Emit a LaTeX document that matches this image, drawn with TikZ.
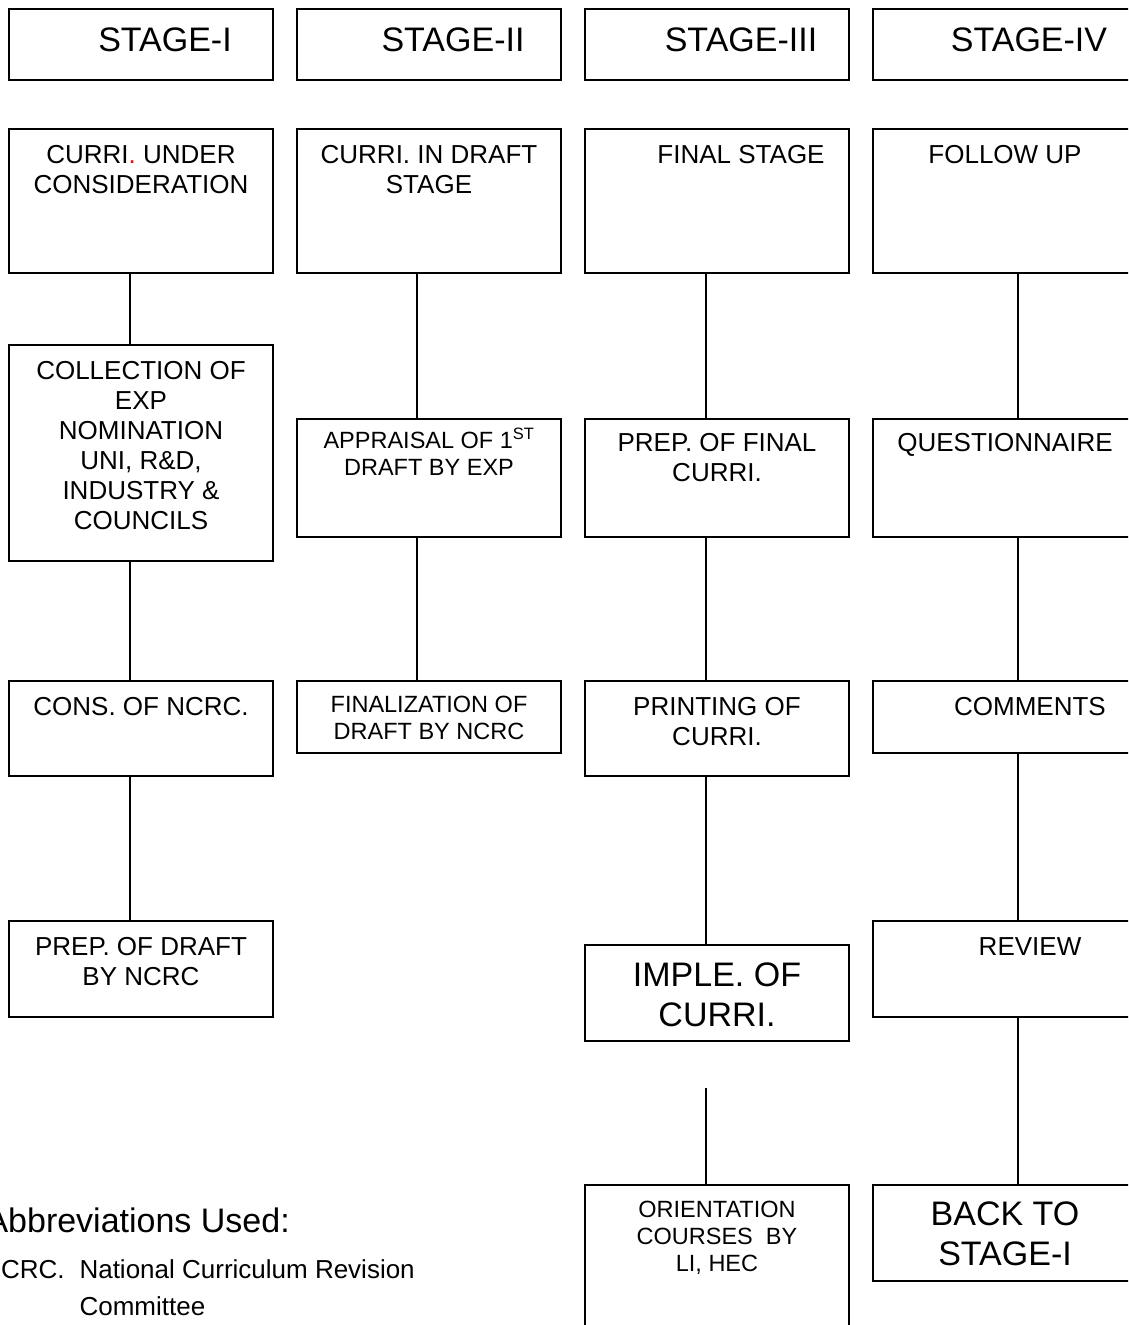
\documentclass[tikz,border=0pt]{standalone}
\usepackage{fontspec}
\setmainfont{Liberation Sans}

\begin{document}
\begin{tikzpicture}[x = 1pt, y = -1pt]
\tikzstyle{BoxStyle}=[
draw,
line width = 1.6pt,
minimum width = 264pt,
inner sep = 0pt,
anchor = north]
\tikzstyle{TextStyle}=[
anchor = north,
inner sep = 0pt,
align = center,
font = \fontsize{26}{30}\selectfont]
\tikzstyle{BigText}=[TextStyle, font = \fontsize{34}{40}\selectfont]
\tikzstyle{SmallText}=[TextStyle, font = \fontsize{23.5}{27}\selectfont]
\tikzstyle{LinkStyle}=[line width = 1.6pt]
\clip (0, 0) rectangle (1128, 1325);
\node[BoxStyle, minimum height = 71pt] (h1) at (141, 8) {};
\node[BoxStyle, minimum height = 71pt] (h2) at (429, 8) {};
\node[BoxStyle, minimum height = 71pt] (h3) at (717, 8) {};
\node[BoxStyle, minimum height = 71pt] (h4) at (1005, 8) {};
\node[BigText] (h1t) at (165, 28) {STAGE-I};
\node[BigText] (h2t) at (453, 28) {STAGE-II};
\node[BigText] (h3t) at (741, 28) {STAGE-III};
\node[BigText] (h4t) at (1029, 28) {STAGE-IV};
\node[BoxStyle, minimum height = 144pt] (b1a) at (141, 128) {};
\node[BoxStyle, minimum height = 216pt] (b1b) at (141, 344) {};
\node[BoxStyle, minimum height = 95pt] (b1c) at (141, 680) {};
\node[BoxStyle, minimum height = 96pt] (b1d) at (141, 920) {};
\node[TextStyle] (t1a) at (141, 145) {CURRI\textcolor{red}{.} UNDER\\CONSIDERATION};
\node[TextStyle] (t1b) at (141, 361) {COLLECTION OF\\EXP\\NOMINATION\\UNI, R\&D,\\INDUSTRY \&\\COUNCILS};
\node[TextStyle] (t1c) at (141, 697) {CONS. OF NCRC.};
\node[TextStyle] (t1d) at (141, 937) {PREP. OF DRAFT\\BY NCRC};
\node[BoxStyle, minimum height = 144pt] (b2a) at (429, 128) {};
\node[BoxStyle, minimum height = 118pt] (b2b) at (429, 418) {};
\node[BoxStyle, minimum height = 72pt] (b2c) at (429, 680) {};
\node[TextStyle] (t2a) at (429, 145) {CURRI. IN DRAFT\\STAGE};
\node[SmallText] (t2b) at (429, 432) {APPRAISAL OF 1\smash{\textsuperscript{ST}}\\DRAFT BY EXP};
\node[SmallText] (t2c) at (429, 696) {FINALIZATION OF\\DRAFT BY NCRC};
\node[BoxStyle, minimum height = 144pt] (b3a) at (717, 128) {};
\node[BoxStyle, minimum height = 118pt] (b3b) at (717, 418) {};
\node[BoxStyle, minimum height = 95pt] (b3c) at (717, 680) {};
\node[BoxStyle, minimum height = 96pt] (b3d) at (717, 944) {};
\node[BoxStyle, minimum height = 200pt] (b3e) at (717, 1184) {};
\coordinate (b3f) at (706, 1088);
\node[TextStyle] (t3a) at (741, 145) {FINAL STAGE};
\node[TextStyle] (t3b) at (717, 433) {PREP. OF FINAL\\CURRI.};
\node[TextStyle] (t3c) at (717, 697) {PRINTING OF\\CURRI.};
\node[BigText] (t3d) at (717, 963) {IMPLE. OF\\CURRI.};
\node[SmallText] (t3e) at (717, 1201) {ORIENTATION\\COURSES\ \ BY\\LI, HEC};
\node[BoxStyle, minimum height = 144pt] (b4a) at (1005, 128) {};
\node[BoxStyle, minimum height = 118pt] (b4b) at (1005, 418) {};
\node[BoxStyle, minimum height = 72pt] (b4c) at (1005, 680) {};
\node[BoxStyle, minimum height = 96pt] (b4d) at (1005, 920) {};
\node[BoxStyle, minimum height = 96pt] (b4e) at (1005, 1184) {};
\node[TextStyle] (t4a) at (1005, 145) {FOLLOW UP};
\node[TextStyle] (t4b) at (1005, 433) {QUESTIONNAIRE};
\node[TextStyle] (t4c) at (1030, 697) {COMMENTS};
\node[TextStyle] (t4d) at (1030, 937) {REVIEW};
\node[BigText] (t4e) at (1005, 1202) {BACK TO\\STAGE-I};
\node[BigText, anchor = base east] (ab1) at (290, 1232) {Abbreviations Used:};
\node[TextStyle, anchor = base east, font = \fontsize{26}{37}\selectfont] (ab2) at (415, 1278)
  {\begin{tabular}[t]{@{}l@{\hspace{15pt}}l@{}}NCRC. & National Curriculum Revision\\ & Committee\end{tabular}};
\draw[LinkStyle] ([xshift = -11pt]b1a.south) -- ([xshift = -11pt]b1b.north);
\draw[LinkStyle] ([xshift = -11pt]b1b.south) -- ([xshift = -11pt]b1c.north);
\draw[LinkStyle] ([xshift = -11pt]b1c.south) -- ([xshift = -11pt]b1d.north);
\draw[LinkStyle] ([xshift = -12pt]b2a.south) -- ([xshift = -12pt]b2b.north);
\draw[LinkStyle] ([xshift = -12pt]b2b.south) -- ([xshift = -12pt]b2c.north);
\draw[LinkStyle] ([xshift = -11pt]b3a.south) -- ([xshift = -11pt]b3b.north);
\draw[LinkStyle] ([xshift = -11pt]b3b.south) -- ([xshift = -11pt]b3c.north);
\draw[LinkStyle] ([xshift = -11pt]b3c.south) -- ([xshift = -11pt]b3d.north);
\draw[LinkStyle] (b3f) -- (b3f |- b3e.north);
\draw[LinkStyle] ([xshift = 13pt]b4a.south) -- ([xshift = 13pt]b4b.north);
\draw[LinkStyle] ([xshift = 13pt]b4b.south) -- ([xshift = 13pt]b4c.north);
\draw[LinkStyle] ([xshift = 13pt]b4c.south) -- ([xshift = 13pt]b4d.north);
\draw[LinkStyle] ([xshift = 13pt]b4d.south) -- ([xshift = 13pt]b4e.north);
\end{tikzpicture}
\end{document}
